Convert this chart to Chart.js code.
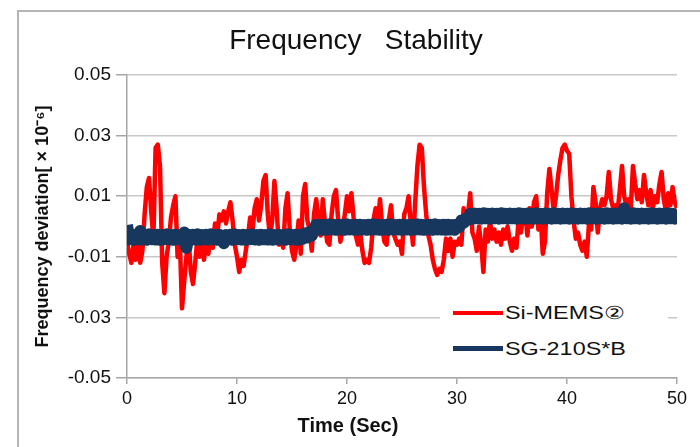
<!DOCTYPE html>
<html>
<head>
<meta charset="utf-8">
<script src="https://cdn.jsdelivr.net/npm/chart.js@4.4.1/dist/chart.umd.min.js"></script>
<style>
  body { margin: 0; background: #fff; }
  #wrap { position: relative; width: 700px; height: 447px; background: #fff; overflow: hidden; }
  #frame { position: absolute; left: 17px; top: 10px; right: -5px; bottom: -5px;
           border-top: 2px solid #b4b4b4; border-left: 2px solid #b4b4b4; pointer-events: none; }
  #legend { position: absolute; left: 440px; top: 296px; width: 228px; height: 70px; background: #fff;
            font: 18px "Liberation Sans", Arial, sans-serif; color: #111; }
  #legend .item { position: absolute; left: 13px; height: 22px; white-space: nowrap; }
  #legend .swatch { position: absolute; left: 0; width: 50px; }
  #legend .label { position: absolute; left: 52px; top: 0; line-height: 22px;
                   transform: scaleX(1.3); transform-origin: left center; }
</style>
</head>
<body>
<div id="wrap">
  <canvas id="chart" width="700" height="447"></canvas>
  <div id="frame"></div>
  <div id="legend"></div>
</div>
<script>
// sampled every 0.2 s, values in units of 10^-6
const sampleStep = 0.2;

const seriesNames = ['Si-MEMS\u2461', 'SG-210S*B'];
const seriesColors = ['#ff0000', '#17375e'];

const siMems = [
  -0.005, -0.009, -0.012, -0.006, -0.011, -0.005, -0.012, -0.008, 0.004, 0.013,
  0.016, 0.005, -0.004, 0.026, 0.027, 0.020, -0.012, -0.022, -0.010, -0.005,
  0.003, 0.007, 0.010, -0.010, -0.004, -0.027, -0.018, -0.010, -0.004, -0.015,
  -0.019, -0.012, -0.004, -0.010, -0.006, -0.011, -0.004, -0.009, -0.002, -0.007,
  0.001, -0.003, 0.004, 0.002, 0.005, 0.001, 0.005, 0.008, 0.002, -0.006,
  -0.010, -0.015, -0.011, -0.013, -0.008, -0.003, 0.003, -0.002, 0.006, 0.009,
  0.002, 0.007, 0.015, 0.017, 0.004, -0.004, 0.002, 0.015, 0.006, -0.006,
  -0.004, -0.007, 0.006, 0.011, -0.001, -0.008, -0.011, -0.006, 0.002, -0.009,
  0.010, 0.014, 0.002, -0.001, -0.008, 0.004, 0.009, 0.003, -0.003, 0.009,
  0.001, -0.005, -0.006, 0.004, 0.010, 0.012, 0.002, -0.005, -0.001, 0.004,
  0.010, 0.005, 0.011, 0.003, -0.003, -0.006, -0.002, -0.008, -0.012, -0.011,
  -0.012, -0.007, 0.002, 0.006, 0.001, 0.009, 0.000, -0.005, -0.006, 0.002,
  0.007, -0.002, -0.004, -0.006, -0.005, -0.009, 0.004, 0.006, 0.010, 0.001,
  -0.006, 0.008, 0.020, 0.027, 0.026, 0.013, 0.004, -0.003, -0.006, -0.011,
  -0.014, -0.016, -0.014, -0.015, -0.011, -0.004, -0.008, -0.004, -0.010, -0.005,
  -0.006, -0.004, -0.006, 0.006, 0.001, 0.004, 0.011, -0.002, -0.004, -0.008,
  0.000, -0.006, -0.015, -0.001, -0.005, 0.002, -0.004, -0.001, -0.005, -0.002,
  -0.006, -0.001, -0.004, 0.000, -0.005, -0.008, -0.004, -0.007, 0.002, -0.002,
  0.003, 0.005, -0.003, 0.006, 0.000, 0.008, 0.010, -0.001, 0.004, -0.009,
  -0.005, 0.011, 0.019, 0.012, 0.005, 0.010, 0.017, 0.022, 0.026, 0.027,
  0.025, 0.024, 0.010, 0.002, -0.004, -0.002, -0.006, -0.008, -0.005, -0.010,
  0.001, -0.001, 0.013, 0.008, -0.002, 0.006, 0.009, 0.007, 0.010, 0.018,
  0.009, 0.006, 0.007, 0.005, 0.012, 0.020, 0.010, 0.007, 0.009, 0.006,
  0.020, 0.014, 0.009, 0.012, 0.008, 0.017, 0.011, 0.007, 0.012, 0.006,
  0.010, 0.008, 0.014, 0.018, 0.009, 0.005, 0.011, 0.007, 0.013, 0.008,
  0.006
];

const sg210 = [
  0.0005, -0.0042, -0.0028, -0.0044, -0.0027, -0.0042, -0.0015, -0.0043, -0.0028, -0.0044,
  -0.0026, -0.0042, -0.0028, -0.0043, -0.0027, -0.0044, -0.0028, -0.0042, -0.0026, -0.0043,
  -0.0028, -0.0044, -0.0027, -0.0042, -0.0028, -0.0043, -0.0020, -0.0070, -0.0028, -0.0042,
  -0.0027, -0.0043, -0.0026, -0.0044, -0.0028, -0.0042, -0.0027, -0.0043, -0.0026, -0.0042,
  -0.0028, -0.0044, -0.0027, -0.0043, -0.0055,
  -0.0028, -0.0042, -0.0027, -0.0044, -0.0026, -0.0042, -0.0028, -0.0043, -0.0027, -0.0044,
  -0.0028, -0.0042, -0.0026, -0.0043, -0.0028, -0.0044, -0.0027, -0.0042, -0.0028, -0.0043,
  -0.0026, -0.0044, -0.0028, -0.0042, -0.0027, -0.0043, -0.0028, -0.0044, -0.0026, -0.0042,
  -0.0028, -0.0043, -0.0027, -0.0044, -0.0028, -0.0040, -0.0022, -0.0036, -0.0018, -0.0030,
  -0.0012,
  0.0006, -0.0010, 0.0005, -0.0011, 0.0006, -0.0010, 0.0007, -0.0010, 0.0006, -0.0011,
  0.0005, -0.0010, 0.0006, -0.0011, 0.0007, -0.0010, 0.0005, -0.0010, 0.0006, -0.0011,
  0.0006, -0.0010, 0.0005, -0.0011, 0.0006, -0.0010, 0.0007, -0.0010, 0.0006, -0.0011,
  0.0005, -0.0010, 0.0006, -0.0011, 0.0007, -0.0010, 0.0005, -0.0010, 0.0006, -0.0011,
  0.0006, -0.0010, 0.0005, -0.0011, 0.0006, -0.0010, 0.0007, -0.0010, 0.0006, -0.0011,
  0.0005, -0.0010, 0.0006, -0.0011, 0.0007, -0.0010, 0.0005, -0.0010, 0.0006, -0.0011,
  0.0006, -0.0010, 0.0005, -0.0011, 0.0006, -0.0002, 0.0020, 0.0012, 0.0026,
  0.0022, 0.0042, 0.0026, 0.0043, 0.0027, 0.0042, 0.0026, 0.0044, 0.0027, 0.0042,
  0.0026, 0.0043, 0.0027, 0.0042, 0.0026, 0.0044, 0.0027, 0.0042, 0.0026, 0.0043,
  0.0027, 0.0042, 0.0026, 0.0044, 0.0027, 0.0042, 0.0026, 0.0043, 0.0027, 0.0042,
  0.0026, 0.0044, 0.0027, 0.0042, 0.0026, 0.0043, 0.0027, 0.0042, 0.0026, 0.0044,
  0.0027, 0.0042, 0.0026, 0.0043, 0.0027, 0.0042, 0.0026, 0.0044, 0.0027, 0.0042,
  0.0026, 0.0043, 0.0027, 0.0042, 0.0026, 0.0044, 0.0027, 0.0042, 0.0026, 0.0043,
  0.0027, 0.0042, 0.0026, 0.0044, 0.0027, 0.0042, 0.0026, 0.0043, 0.0027, 0.0042,
  0.0026, 0.0060, 0.0027, 0.0042, 0.0026, 0.0044, 0.0027, 0.0042, 0.0026, 0.0043,
  0.0027, 0.0042, 0.0026, 0.0044, 0.0027, 0.0042, 0.0026, 0.0043, 0.0027, 0.0042,
  0.0026, 0.0044, 0.0027, 0.0042, 0.0026, 0.0043
];

const xTickValues = [0, 10, 20, 30, 40, 50];
const yTickValues = [-0.05, -0.03, -0.01, 0.01, 0.03, 0.05];

const chartTitle = 'Frequency   Stability';
const xAxisTitle = 'Time (Sec)';
const yAxisTitle = 'Frequency deviation[ \u00d7 10\u207b\u2076]';

const toPoints = values => values.map((v, i) => ({ x: i * sampleStep, y: v }));

// title and x-axis title sit off-centre in the original, so draw them here
const freeText = {
  id: 'freeText',
  afterDraw(chart) {
    const ctx = chart.ctx;
    ctx.save();
    ctx.fillStyle = '#111';
    ctx.textAlign = 'center';
    ctx.textBaseline = 'middle';
    ctx.font = '28px "Liberation Sans", Arial, sans-serif';
    ctx.fillText(chartTitle, 356, 41);
    ctx.font = 'bold 20px "Liberation Sans", Arial, sans-serif';
    ctx.fillText(xAxisTitle, 348, 426);
    ctx.restore();
  }
};

const axisGrey = '#a6a6a6';

new Chart(document.getElementById('chart'), {
  type: 'line',
  data: {
    datasets: [
      {
        label: seriesNames[1],
        data: toPoints(sg210),
        borderColor: seriesColors[1],
        borderWidth: 12,
        borderJoinStyle: 'round',
        pointRadius: 0,
        tension: 0,
        order: 0
      },
      {
        label: seriesNames[0],
        data: toPoints(siMems),
        borderColor: seriesColors[0],
        borderWidth: 4.5,
        borderJoinStyle: 'round',
        pointRadius: 0,
        tension: 0,
        order: 1
      }
    ]
  },
  options: {
    responsive: false,
    animation: false,
    layout: { padding: { left: 22, right: 23, top: 75, bottom: 0 } },
    plugins: {
      legend: { display: false },
      title: { display: false },
      tooltip: { enabled: false }
    },
    scales: {
      x: {
        type: 'linear',
        min: 0,
        max: 50,
        afterBuildTicks: scale => { scale.ticks = xTickValues.map(v => ({ value: v })); },
        afterFit: scale => { scale.height = 69; },
        ticks: {
          autoSkip: false,
          maxRotation: 0,
          padding: 4,
          color: '#111',
          font: { family: '"Liberation Sans", Arial, sans-serif', size: 18 }
        },
        grid: { drawOnChartArea: false, drawTicks: true, tickLength: 6, color: axisGrey, lineWidth: 1.5 },
        border: { color: axisGrey, width: 1.5 }
      },
      y: {
        min: -0.05,
        max: 0.05,
        afterBuildTicks: scale => { scale.ticks = yTickValues.map(v => ({ value: v })); },
        afterFit: scale => { scale.width = 105; },
        ticks: {
          padding: 5,
          color: '#111',
          font: { family: '"Liberation Sans", Arial, sans-serif', size: 19 },
          callback: v => v.toFixed(2)
        },
        grid: { color: '#c8c8c8', lineWidth: 1.5, tickLength: 11, tickColor: axisGrey },
        border: { color: axisGrey, width: 1.5 },
        title: {
          display: true,
          text: yAxisTitle,
          color: '#111',
          padding: { top: 10, bottom: 0 },
          font: { family: '"Liberation Sans", Arial, sans-serif', size: 18, weight: 'bold' }
        }
      }
    }
  },
  plugins: [freeText]
});

// legend boxed inside the plot area, lower right
const legendEl = document.getElementById('legend');
const legendOrder = [0, 1];
legendOrder.forEach((k, row) => {
  const item = document.createElement('div');
  item.className = 'item';
  item.style.top = (6 + row * 36) + 'px';
  item.innerHTML = '<div class="swatch" style="top:' + (k === 0 ? 9 : 8) + 'px;height:' + (k === 0 ? 4 : 5) +
    'px;background:' + seriesColors[k] + '"></div><span class="label">' + seriesNames[k] + '</span>';
  legendEl.appendChild(item);
});
</script>
</body>
</html>
